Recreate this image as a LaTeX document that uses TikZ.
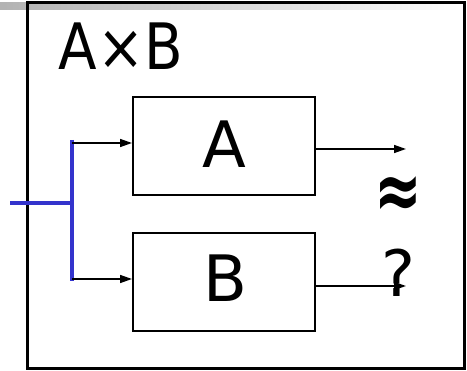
\documentclass[tikz,border=0pt]{standalone}
\usepackage{fontspec}
\setmainfont{DejaVu Sans}
\usetikzlibrary{arrows.meta}
\begin{document}
\begin{tikzpicture}[x=1pt,y=-1pt,
  blk/.style={draw,line width=2pt,inner sep=0pt},
  con/.style={line width=1.5pt,-{Stealth[length=12pt,width=8pt,inset=0pt]}},
  blu/.style={draw={rgb,255:red,51;green,51;blue,204},line width=4pt},
  lbl/.style={inner sep=0pt,font=\fontsize{64}{64}\selectfont}]
\useasboundingbox (0,0) rectangle (467,371);
\shade[left color=black!30,right color=white] (0,3) rectangle (465,10);
\draw[line width=3pt] (27.5,3) rectangle (464,369);
\node[lbl,anchor=base,xscale=0.88] (title) at (121,70) {A×B};
\node[blk,minimum width=182pt,minimum height=98pt] (A) at (224,146) {};
\node[blk,minimum width=182pt,minimum height=98pt] (B) at (224,282) {};
\node[lbl,anchor=base] (At) at (224,168) {A};
\node[lbl,anchor=base] (Bt) at (225,302) {B};
\coordinate (t1) at (72,140);
\coordinate (t2) at (72,281);
\coordinate (in) at (10,203);
\coordinate (tj) at (72,203);
\coordinate (a1) at (72,143);
\coordinate (b1) at (72,279);
\coordinate (ao) at (406,149);
\coordinate (bo) at (406,286);
\draw[blu] (in) -- (tj);
\draw[blu] (t1) -- (t2);
\draw[con] (a1) -- (a1 -| A.west);
\draw[con] (b1) -- (b1 -| B.west);
\draw[con] (A.east |- ao) -- (ao);
\draw[con] (B.east |- bo) -- (bo);
\node[inner sep=0pt,xscale=0.95,yscale=1.35,font=\fontsize{60}{60}\selectfont\bfseries] (ap) at (398,198) {≈};
\node[lbl,anchor=base] (q) at (398,297) {?};
\end{tikzpicture}
\end{document}
